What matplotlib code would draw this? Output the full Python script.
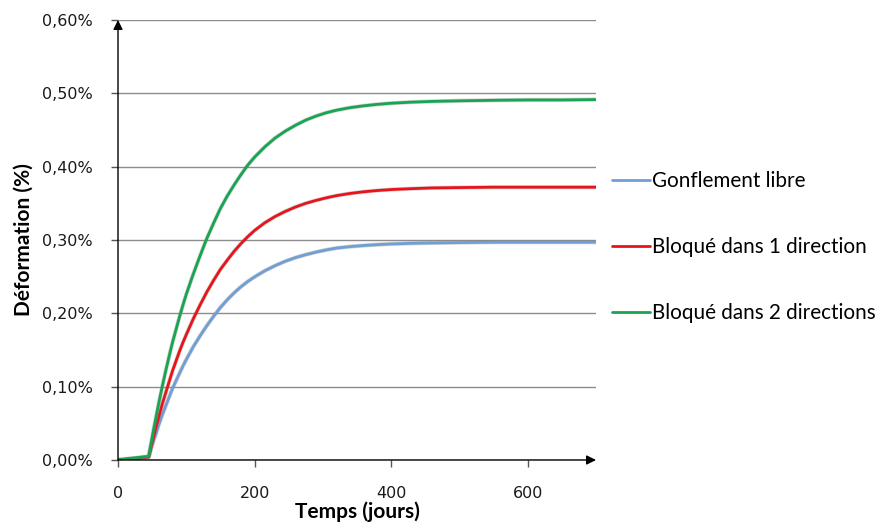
import matplotlib
matplotlib.use("Agg")
import matplotlib.pyplot as plt
import matplotlib.patheffects as pe
from matplotlib.ticker import FuncFormatter

# Data (time in days, deformation in %)
temps = [0, 45, 48, 52, 56, 60, 65, 70, 75, 80, 85, 90, 95, 100, 110, 120, 130,
         140, 150, 160, 170, 180, 190, 200, 215, 230, 245, 260, 275, 290, 305,
         320, 340, 360, 380, 400, 430, 460, 500, 550, 600, 650, 700]
gonflement_libre = [0.000, 0.004, 0.014, 0.026, 0.037, 0.049, 0.062, 0.074, 0.086,
                    0.098, 0.108, 0.118, 0.128, 0.137, 0.154, 0.169, 0.183, 0.196,
                    0.208, 0.2185, 0.2279, 0.2362, 0.2434, 0.2497, 0.258, 0.265, 0.271,
                    0.276, 0.280, 0.2835, 0.2865, 0.289, 0.291, 0.2925, 0.2937, 0.2946,
                    0.2955, 0.296, 0.2965, 0.297, 0.297, 0.297, 0.297]
bloque_1 = [0.000, 0.004, 0.016, 0.031, 0.046, 0.060, 0.077, 0.092, 0.107, 0.122,
            0.135, 0.148, 0.160, 0.171, 0.192, 0.211, 0.229, 0.245, 0.260, 0.2725,
            0.2845, 0.295, 0.3045, 0.313, 0.3235, 0.332, 0.339, 0.345, 0.350, 0.354,
            0.3575, 0.3605, 0.3635, 0.3658, 0.3675, 0.3688, 0.370, 0.371, 0.3715, 0.372,
            0.372, 0.372, 0.372]
bloque_2 = [0.000, 0.005, 0.021, 0.041, 0.060, 0.079, 0.101, 0.122, 0.142, 0.161,
            0.178, 0.195, 0.211, 0.226, 0.253, 0.278, 0.302, 0.323, 0.343, 0.360,
            0.375, 0.389, 0.402, 0.413, 0.427, 0.439, 0.4485, 0.4565, 0.4635, 0.469,
            0.4735, 0.477, 0.4805, 0.483, 0.485, 0.4865, 0.488, 0.489, 0.4898, 0.4905,
            0.491, 0.491, 0.4915]
series_labels = ["Gonflement libre", "Bloqué dans 1 direction", "Bloqué dans 2 directions"]
series_colors = ["#6f9fd4", "#e8141b", "#17a552"]
x_ticks = [0, 200, 400, 600]
y_ticks = [0.0, 0.1, 0.2, 0.3, 0.4, 0.5, 0.6]

W, H = 879, 522
fig = plt.figure(figsize=(W / 100, H / 100), dpi=100)
ax = fig.add_axes([118 / W, 1 - 460 / H, (596 - 118) / W, (460 - 20) / H])

for vals, lab, col in zip([gonflement_libre, bloque_1, bloque_2], series_labels, series_colors):
    ax.plot(temps, vals, color=col, lw=2.0, label=lab, solid_capstyle="round",
            solid_joinstyle="round",
            path_effects=[pe.Stroke(linewidth=3.0, foreground="#808080", alpha=0.35), pe.Normal()],
            zorder=3)

ax.set_xlim(0, 700)
ax.set_ylim(0, 0.6)
ax.set_xticks(x_ticks)
ax.set_yticks(y_ticks)
ax.yaxis.set_major_formatter(FuncFormatter(lambda v, p: f"{v:.2f}%".replace(".", ",")))
ax.grid(axis="y", color="#8c8c8c", lw=1.0, zorder=0)
ax.set_axisbelow(True)

for s in ax.spines.values():
    s.set_visible(False)

ax.tick_params(axis="both", direction="out", length=5, width=1, color="#555555",
               labelsize=11.5, labelcolor="#1a1a1a")
ax.tick_params(axis="y", pad=13)
ax.tick_params(axis="x", pad=14)

# Axis arrows
ax.annotate("", xy=(0, 1.0), xytext=(0, 0), xycoords="axes fraction",
            arrowprops=dict(arrowstyle="-|>", color="black", lw=1.0, mutation_scale=14,
                            shrinkA=0, shrinkB=0), zorder=5)
ax.annotate("", xy=(1.0, 0), xytext=(0, 0), xycoords="axes fraction",
            arrowprops=dict(arrowstyle="-|>", color="black", lw=1.0, mutation_scale=14,
                            shrinkA=0, shrinkB=0), zorder=5)

ax.set_xlabel("Temps (jours)", fontsize=15, fontweight="bold", family="Lato", labelpad=0)
ax.set_ylabel("Déformation (%)", fontsize=15, fontweight="bold", family="Lato", labelpad=6)

leg = fig.legend(loc="center left", bbox_to_anchor=(612 / W, 1 - 247 / H), frameon=False,
                 borderpad=0, borderaxespad=0, handlelength=1.85, handletextpad=0.1,
                 labelspacing=2.22, prop={"family": "Lato", "size": 14.9})
for h in leg.get_lines():
    h.set_linewidth(2.0)
    h.set_path_effects([])

fig.savefig("out.png", dpi=100)
